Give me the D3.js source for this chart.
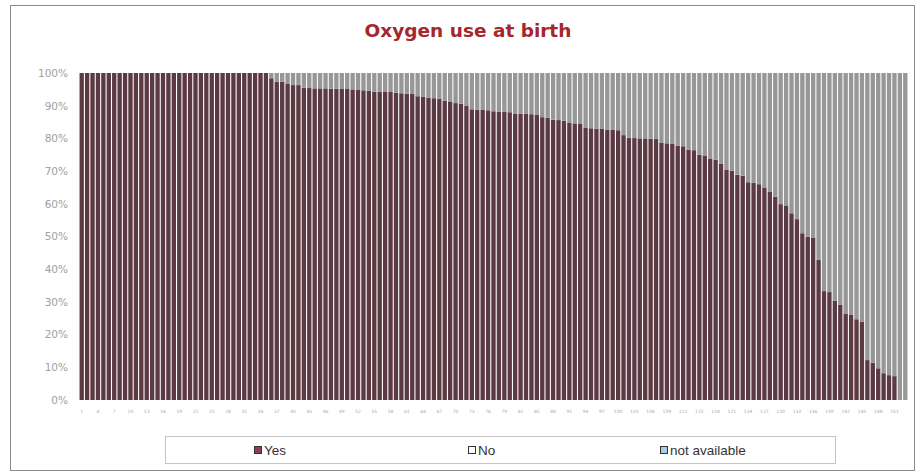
<!DOCTYPE html>
<html>
<head>
<meta charset="utf-8">
<script src="https://cdn.jsdelivr.net/npm/d3@7/dist/d3.min.js"></script>
<style>
  html, body { margin: 0; padding: 0; background: #ffffff; }
  svg { display: block; }
</style>
</head>
<body>
<svg id="chart" width="919" height="475"></svg>
<script>
// ---------------- DATA ----------------
const categories = [
  1,2,3,4,5,6,7,8,9,10,11,12,13,14,15,16,17,18,19,20,
  21,22,23,24,25,26,27,28,29,30,31,32,33,34,35,36,37,38,39,40,
  41,42,43,44,45,46,47,48,49,50,51,52,53,54,55,56,57,58,59,60,
  61,62,63,64,65,66,67,68,69,70,71,72,73,74,75,76,77,78,79,80,
  81,82,83,84,85,86,87,88,89,90,91,92,93,94,95,96,97,98,99,100,
  101,102,103,104,105,106,107,108,109,110,111,112,113,114,115,116,117,118,119,120,
  121,122,123,124,125,126,127,128,129,130,131,132,133,134,135,136,137,138,139,140,
  141,142,143,144,145,146,147,148,149,150,151,152,153
];

// Percentage "Yes" per category
const yesValues = [
  100,100,100,100,100,100,100,100,100,100,
  100,100,100,100,100,100,100,100,100,100,
  100,100,100,100,100,100,100,100,100,100,
  100,100,100,100,100,98.4,97.3,97.3,96.8,96.3,
  96.3,95.5,95.4,95.3,95.3,95.3,95.2,95.2,95.1,95.1,
  95.0,94.8,94.7,94.6,94.3,94.3,94.2,94.2,94.0,93.8,
  93.7,93.6,92.9,92.8,92.4,92.3,92.2,91.5,91.3,90.8,
  90.6,89.9,88.9,88.8,88.7,88.6,88.3,88.2,88.2,88.0,
  87.6,87.5,87.5,87.4,87.3,86.5,86.3,85.7,85.6,85.4,
  84.7,84.6,84.4,83.2,83.1,83.0,82.9,82.7,82.6,82.5,
  81.0,80.2,80.1,80.0,80.0,79.9,79.8,78.6,78.5,78.3,
  77.8,77.6,76.6,76.4,75.0,74.8,73.7,73.5,72.2,70.5,
  70.1,68.9,68.6,66.6,66.4,66.0,65.0,63.6,62.2,59.9,
  59.5,57.1,55.3,51.0,49.9,49.7,42.8,33.3,33.0,30.4,
  29.1,26.3,26.0,24.7,24.0,12.2,11.4,9.7,8.2,7.6,
  7.3,0,0
];

// Percentage "not available" per category (none visible)
const naValues = [
  0,0,0,0,0,0,0,0,0,0, 0,0,0,0,0,0,0,0,0,0,
  0,0,0,0,0,0,0,0,0,0, 0,0,0,0,0,0,0,0,0,0,
  0,0,0,0,0,0,0,0,0,0, 0,0,0,0,0,0,0,0,0,0,
  0,0,0,0,0,0,0,0,0,0, 0,0,0,0,0,0,0,0,0,0,
  0,0,0,0,0,0,0,0,0,0, 0,0,0,0,0,0,0,0,0,0,
  0,0,0,0,0,0,0,0,0,0, 0,0,0,0,0,0,0,0,0,0,
  0,0,0,0,0,0,0,0,0,0, 0,0,0,0,0,0,0,0,0,0,
  0,0,0,0,0,0,0,0,0,0, 0,0,0
];

const seriesNames = ["Yes", "No", "not available"];
const yTicks = [0, 10, 20, 30, 40, 50, 60, 70, 80, 90, 100];
const xTickLabels = [1,4,7,10,13,16,19,22,25,28,31,34,37,40,43,46,49,52,55,58,61,64,67,70,73,76,79,82,85,88,91,94,97,100,103,106,109,112,115,118,121,124,127,130,133,136,139,142,145,148,151];
const titleText = "Oxygen use at birth";

// ---------------- DRAW ----------------
const svg = d3.select("#chart");
const plot = { left: 79, right: 908, top: 73, bottom: 400 };

const colors = { "Yes": "#5c3a44", "No": "#979797", "not available": "#a9c6dc" };
const swatchColors = { "Yes": "#8e3f5a", "No": "#ffffff", "not available": "#a9cbe3" };

// outer frame
svg.append("rect")
  .attr("x", 10.5).attr("y", 5.5).attr("width", 904).attr("height", 465)
  .attr("fill", "#fff").attr("stroke", "#8a8a8a").attr("stroke-width", 1);

// title
svg.append("text")
  .attr("x", 468).attr("y", 37)
  .attr("text-anchor", "middle")
  .attr("font-family", "DejaVu Sans, Verdana, sans-serif")
  .attr("font-weight", "bold")
  .attr("font-size", 18.5)
  .attr("fill", "#a5262c")
  .text(titleText);

const table = categories.map((c, i) => ({
  cat: c,
  "Yes": yesValues[i],
  "No": Math.max(0, 100 - yesValues[i] - naValues[i]),
  "not available": naValues[i]
}));

const stack = d3.stack().keys(seriesNames)(table);

const x = d3.scaleBand().domain(categories).range([plot.left, plot.right]).paddingInner(0.2).paddingOuter(0.1);
const y = d3.scaleLinear().domain([0, 100]).range([plot.bottom, plot.top]);

const gBars = svg.append("g");
stack.forEach(layer => {
  gBars.append("g")
    .attr("fill", colors[layer.key])
    .selectAll("rect")
    .data(layer)
    .join("rect")
    .attr("x", d => x(d.data.cat))
    .attr("width", x.bandwidth())
    .attr("y", d => y(d[1]))
    .attr("height", d => y(d[0]) - y(d[1]));
});

// y axis labels
const yAxis = d3.axisLeft(y).tickValues(yTicks).tickFormat(d => d + "%").tickSize(0).tickPadding(0);
const gy = svg.append("g").attr("transform", `translate(${plot.left - 11},0)`).call(yAxis);
gy.select(".domain").remove();
gy.selectAll("text")
  .attr("font-family", "DejaVu Sans, Verdana, sans-serif")
  .attr("font-size", 10.5)
  .attr("fill", "#a0a0a0");

// x axis labels
const xAxis = d3.axisBottom(x).tickValues(xTickLabels).tickSize(0).tickPadding(0);
const gx = svg.append("g").attr("transform", `translate(0,${plot.bottom + 10})`).call(xAxis);
gx.select(".domain").remove();
gx.selectAll("text")
  .attr("font-family", "DejaVu Sans, Verdana, sans-serif")
  .attr("font-size", 4.5)
  .attr("fill", "#a8a8a8");

// legend
const lg = svg.append("g");
lg.append("rect")
  .attr("x", 165.5).attr("y", 436.5).attr("width", 670).attr("height", 27)
  .attr("fill", "#fff").attr("stroke", "#c4c4c4");
const legendPos = { "Yes": 254, "No": 468, "not available": 660 };
seriesNames.forEach(name => {
  const gx0 = legendPos[name];
  lg.append("rect")
    .attr("x", gx0 + 0.5).attr("y", 446.5).attr("width", 7).attr("height", 7)
    .attr("fill", swatchColors[name]).attr("stroke", "#333").attr("stroke-width", 1);
  lg.append("text")
    .attr("x", gx0 + 10).attr("y", 455)
    .attr("font-family", "Liberation Sans, Arial, sans-serif")
    .attr("font-size", 13.5)
    .attr("fill", "#333")
    .text(name);
});
</script>
</body>
</html>
